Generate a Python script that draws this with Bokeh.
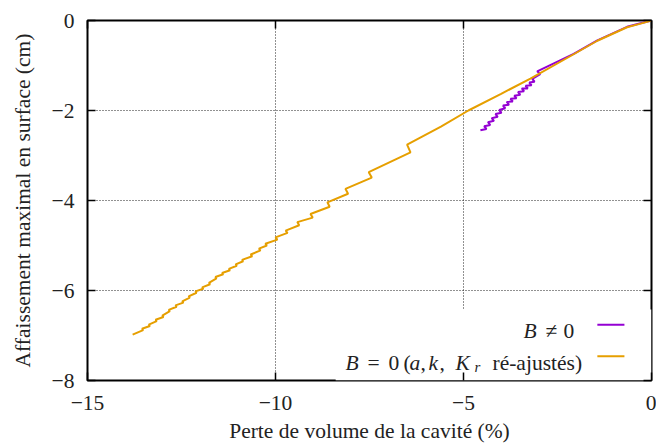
from bokeh.plotting import figure
from bokeh.models import Range1d, FixedTicker, LinearAxis, BoxAnnotation, ColumnDataSource
from bokeh.core.properties import value
from bokeh.embed import file_html
from bokeh.resources import INLINE

# ---------------- data ----------------
X_TICKS = [-15, -10, -5, 0]
X_TICK_LABELS = ["\u221215", "\u221210", "\u22125", "0"]
Y_TICKS = [-8, -6, -4, -2, 0]
Y_TICK_LABELS = ["\u22128", "\u22126", "\u22124", "\u22122", "0"]
X_LABEL = "Perte de volume de la cavité (%)"
Y_LABEL = "Affaissement maximal en surface (cm)"

# series "B != 0" (purple): stepped part, then smooth part
PURPLE_STEP_X = [-4.55, -4.45, -4.35, -4.25, -4.15, -4.05, -3.95, -3.85, -3.75, -3.65,
                 -3.55, -3.45, -3.35, -3.25, -3.17, -3.04]
PURPLE_STEP_Y = [-2.44, -2.35, -2.26, -2.17, -2.08, -1.99, -1.89, -1.81, -1.74, -1.67,
                 -1.59, -1.51, -1.45, -1.38, -1.30, -1.13]
PURPLE_DROP = [0.0, 0.06, 0.06, 0.06, 0.06, 0.06, 0.06, 0.06, 0.06, 0.06,
               0.06, 0.06, 0.06, 0.06, 0.06, 0.06]
PURPLE_SHIFT = [0.0, 0.06, 0.06, 0.06, 0.06, 0.06, 0.06, 0.06, 0.06, 0.06,
                0.06, 0.06, 0.06, 0.06, 0.06, 0.08]
PURPLE_TAIL_X = [-2.07, -1.44, -0.65, -0.29, 0.0]
PURPLE_TAIL_Y = [-0.74, -0.44, -0.14, -0.06, 0.0]

# series "B = 0 (a, k, Kr re-ajustes)" (orange)
ORANGE_STEP_X = [-13.80, -13.55, -13.37, -13.19, -13.01, -12.84, -12.66, -12.48, -12.31, -12.13,
                 -11.95, -11.77, -11.60, -11.42, -11.24, -11.06, -10.89, -10.66, -10.44, -10.27,
                 -10.00, -9.73, -9.42, -9.07, -8.62, -8.14, -7.52, -6.50]
ORANGE_STEP_Y = [-6.98, -6.85, -6.76, -6.65, -6.56, -6.43, -6.33, -6.24, -6.13, -6.02,
                 -5.93, -5.83, -5.70, -5.61, -5.52, -5.42, -5.32, -5.20, -5.07, -4.96,
                 -4.82, -4.67, -4.48, -4.30, -4.04, -3.74, -3.37, -2.76]
ORANGE_DROP = [0.0, 0.03, 0.03, 0.03, 0.03, 0.03, 0.03, 0.03, 0.03, 0.03,
               0.03, 0.03, 0.03, 0.03, 0.03, 0.03, 0.03, 0.04, 0.04, 0.04,
               0.05, 0.05, 0.07, 0.08, 0.10, 0.11, 0.12, 0.17]
ORANGE_SHIFT = [0.0, 0.03, 0.03, 0.03, 0.03, 0.03, 0.03, 0.03, 0.03, 0.03,
                0.03, 0.03, 0.03, 0.03, 0.03, 0.03, 0.03, 0.04, 0.04, 0.04,
                0.05, 0.05, 0.05, 0.06, 0.06, 0.07, 0.08, 0.09]
ORANGE_TAIL_X = [-5.60, -4.87, -4.00, -3.22, -2.07, -1.44, -0.65, -0.29, 0.0]
ORANGE_TAIL_Y = [-2.36, -2.00, -1.63, -1.29, -0.75, -0.45, -0.15, -0.07, 0.0]

PURPLE = "#9400D3"
ORANGE = "#E69F00"
FONT = "Liberation Serif"
FS = "21.5px"
TXT = "#222222"


def stepped_path(sx, sy, drop, shift, tx, ty):
    xs, ys = [], []
    for x, y, h, d in zip(sx, sy, drop, shift):
        if h or d:
            xs.append(x + d)
            ys.append(y - h)
        xs.append(x)
        ys.append(y)
    return xs + list(tx), ys + list(ty)


p = figure(width=656, height=446, x_range=Range1d(-15, 0), y_range=Range1d(-8, 0),
           output_backend="svg", toolbar_location=None,
           min_border_left=87, min_border_right=5, min_border_top=20, min_border_bottom=66)
p.background_fill_color = "white"
p.border_fill_color = "white"
p.outline_line_color = "black"
p.outline_line_width = 2

# grid
p.xgrid.ticker = FixedTicker(ticks=[-10, -5])
p.ygrid.ticker = FixedTicker(ticks=[-6, -4, -2])
for g in (p.xgrid[0], p.ygrid[0]):
    g.grid_line_color = "#222222"
    g.grid_line_dash = "1 2"
    g.grid_line_width = 1

# key background (covers the grid behind the key)
p.add_layout(BoxAnnotation(left=-8.4, right=0, bottom=-8, top=-6.42, fill_color="white",
                           fill_alpha=1, line_color=None, level="underlay"))


def style_axis(ax, ticks, labels, show):
    ax.ticker = FixedTicker(ticks=ticks, minor_ticks=[])
    ax.axis_line_color = None
    ax.major_tick_in = 8
    ax.major_tick_out = 0
    ax.minor_tick_in = 0
    ax.minor_tick_out = 0
    ax.major_tick_line_width = 1.5
    ax.major_tick_line_color = "black"
    if show:
        ax.major_label_overrides = dict(zip(ticks, labels))
        ax.major_label_text_font = FONT
        ax.major_label_text_font_size = FS
        ax.major_label_text_color = TXT
        ax.axis_label_text_font = FONT
        ax.axis_label_text_font_size = FS
        ax.axis_label_text_font_style = "normal"
        ax.axis_label_text_color = TXT
    else:
        ax.major_label_overrides = {t: "" for t in ticks}
        ax.major_label_standoff = 0


style_axis(p.xaxis[0], X_TICKS, X_TICK_LABELS, True)
style_axis(p.yaxis[0], Y_TICKS, Y_TICK_LABELS, True)
p.xaxis[0].axis_label = X_LABEL
p.yaxis[0].axis_label = Y_LABEL
p.xaxis[0].major_label_standoff = 15
p.xaxis[0].axis_label_standoff = 6
p.yaxis[0].major_label_standoff = 13
p.yaxis[0].axis_label_standoff = 14

top_axis = LinearAxis()
right_axis = LinearAxis()
style_axis(top_axis, X_TICKS, X_TICK_LABELS, False)
style_axis(right_axis, Y_TICKS, Y_TICK_LABELS, False)
p.add_layout(top_axis, "above")
p.add_layout(right_axis, "right")

# curves
px, py = stepped_path(PURPLE_STEP_X, PURPLE_STEP_Y, PURPLE_DROP, PURPLE_SHIFT, PURPLE_TAIL_X, PURPLE_TAIL_Y)
ox, oy = stepped_path(ORANGE_STEP_X, ORANGE_STEP_Y, ORANGE_DROP, ORANGE_SHIFT, ORANGE_TAIL_X, ORANGE_TAIL_Y)
p.line(px, py, line_color=PURPLE, line_width=2)
p.line(ox, oy, line_color=ORANGE, line_width=2)

# key (gnuplot style: text on the left, sample line on the right)
KEY_Y1, KEY_Y2 = -6.76, -7.46          # sample line positions
BASE_Y1, BASE_Y2 = -6.91, -7.62        # text baselines
KEY_X0, KEY_X1 = -1.44, -0.72
p.segment(x0=[KEY_X0], y0=[KEY_Y1], x1=[KEY_X1], y1=[KEY_Y1], line_color=PURPLE, line_width=2)
p.segment(x0=[KEY_X0], y0=[KEY_Y2], x1=[KEY_X1], y1=[KEY_Y2], line_color=ORANGE, line_width=2)

ital = ColumnDataSource(dict(
    x=[0, 0, 0, 0, 0],
    y=[BASE_Y1, BASE_Y2, BASE_Y2, BASE_Y2, BASE_Y2],
    t=["B", "B", "a", "k", "K"],
    xo=[-128, -306, -242, -223, -196]))
norm = ColumnDataSource(dict(
    x=[0] * 8,
    y=[BASE_Y1, BASE_Y1, BASE_Y2, BASE_Y2, BASE_Y2, BASE_Y2, BASE_Y2, BASE_Y2],
    t=["\u2260", "0", "=", "0", "(", ",", ",", "ré-ajustés)"],
    xo=[-106, -88, -284, -263, -248, -231, -212, -159]))
p.text(x="x", y="y", text="t", x_offset="xo", source=ital, text_font=value(FONT),
       text_font_style="italic", text_font_size=FS, text_color=TXT,
       text_align="left", text_baseline="alphabetic")
p.text(x="x", y="y", text="t", x_offset="xo", source=norm, text_font=value(FONT),
       text_font_size=FS, text_color=TXT, text_align="left", text_baseline="alphabetic")
p.text(x=[0], y=[BASE_Y2 - 0.09], text=["r"], x_offset=[-177], text_font=value(FONT),
       text_font_style="italic", text_font_size="15px", text_color=TXT,
       text_align="left", text_baseline="alphabetic")

open("out.html", "w").write(file_html(p, INLINE))
